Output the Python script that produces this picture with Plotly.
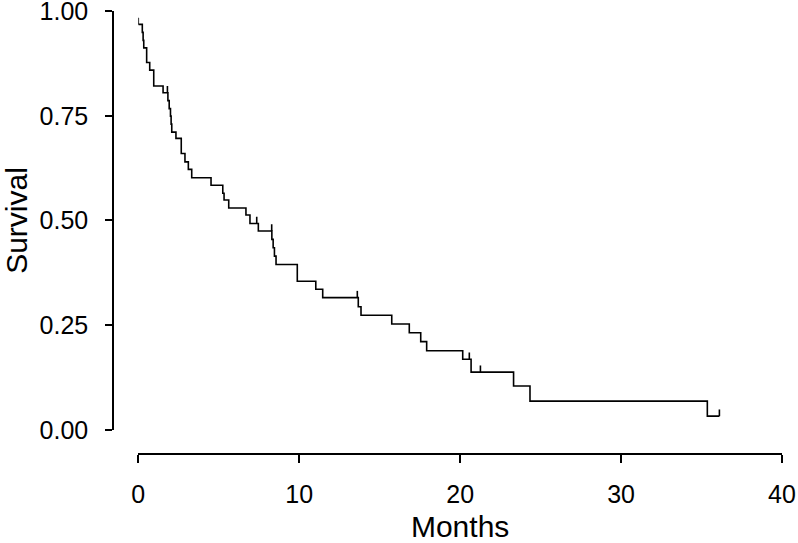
import plotly.graph_objects as go

# Kaplan-Meier step data (time of drop in months, survival after drop)
times = [0.0, 0.25, 0.30, 0.34, 0.52, 0.71, 0.96, 1.54, 1.84, 1.92, 2.00, 2.04, 2.08,
         2.34, 2.67, 2.90, 3.11, 3.32, 4.52, 5.25, 5.33, 5.62, 6.69, 6.94, 7.46,
         8.30, 8.38, 8.46, 8.56, 9.88, 11.03, 11.46, 13.67, 13.84, 15.75, 16.84,
         17.55, 17.92, 20.16, 20.68, 23.32, 24.34, 35.36, 36.11]
survival = [0.968, 0.949, 0.930, 0.912, 0.877, 0.859, 0.821, 0.805, 0.786, 0.767, 0.749, 0.730, 0.711,
            0.696, 0.660, 0.640, 0.622, 0.602, 0.584, 0.565, 0.549, 0.530, 0.513, 0.493, 0.475,
            0.455, 0.435, 0.415, 0.395, 0.355, 0.336, 0.316, 0.294, 0.274, 0.253, 0.232,
            0.211, 0.189, 0.169, 0.138, 0.105, 0.069, 0.033, 0.033]

# censored observations
censor_times = [0.0, 1.81, 7.36, 8.29, 13.61, 20.57, 21.26, 36.11]
censor_surv = [0.968, 0.805, 0.493, 0.475, 0.316, 0.169, 0.138, 0.033]

x_ticks = [0, 10, 20, 30, 40]
y_ticks = [0.0, 0.25, 0.5, 0.75, 1.0]
y_tick_labels = ["0.00", "0.25", "0.50", "0.75", "1.00"]

FONT = "Liberation Sans, Arial, Helvetica, sans-serif"
tick_h = 0.016

fig = go.Figure()
fig.add_trace(go.Scatter(x=times, y=survival, mode="lines", line_shape="hv",
                         line=dict(color="black", width=1.6), showlegend=False,
                         hoverinfo="skip"))
fig.add_trace(go.Scatter(x=censor_times, y=censor_surv, mode="markers",
                         marker=dict(size=1, color="rgba(0,0,0,0)"),
                         error_y=dict(type="data", symmetric=False,
                                      array=[tick_h] * len(censor_times),
                                      arrayminus=[0] * len(censor_times),
                                      width=0, thickness=1.6, color="black"),
                         showlegend=False, hoverinfo="skip"))

fig.update_layout(
    width=798, height=543,
    margin=dict(l=113, r=16, t=11, b=89),
    paper_bgcolor="white", plot_bgcolor="white",
    font=dict(family=FONT, size=25, color="black"),
    xaxis=dict(domain=[0.0378, 1], range=[0, 40], anchor="free", position=0,
               tickvals=x_ticks, ticks="outside", ticklen=8, tickwidth=1.5,
               tickcolor="black", showline=True, linecolor="black", linewidth=1.5,
               showgrid=False, zeroline=False, ticklabelstandoff=10,
               automargin=False, ticklabeloverflow="allow",
               title=dict(text="Months", standoff=12)),
    yaxis=dict(domain=[0.0542, 1], range=[0, 1], anchor="free", position=0,
               tickvals=y_ticks, ticktext=y_tick_labels, ticks="outside",
               ticklen=7, tickwidth=1.5, tickcolor="black", showline=True,
               linecolor="black", linewidth=1.5, showgrid=False, zeroline=False,
               ticklabelstandoff=12, automargin=False, ticklabeloverflow="allow",
               title=dict(text="Survival", standoff=30)),
)

fig.write_html("out.html", config={"displayModeBar": False},
               post_script="document.body.style.margin='0';document.body.style.padding='0';")
